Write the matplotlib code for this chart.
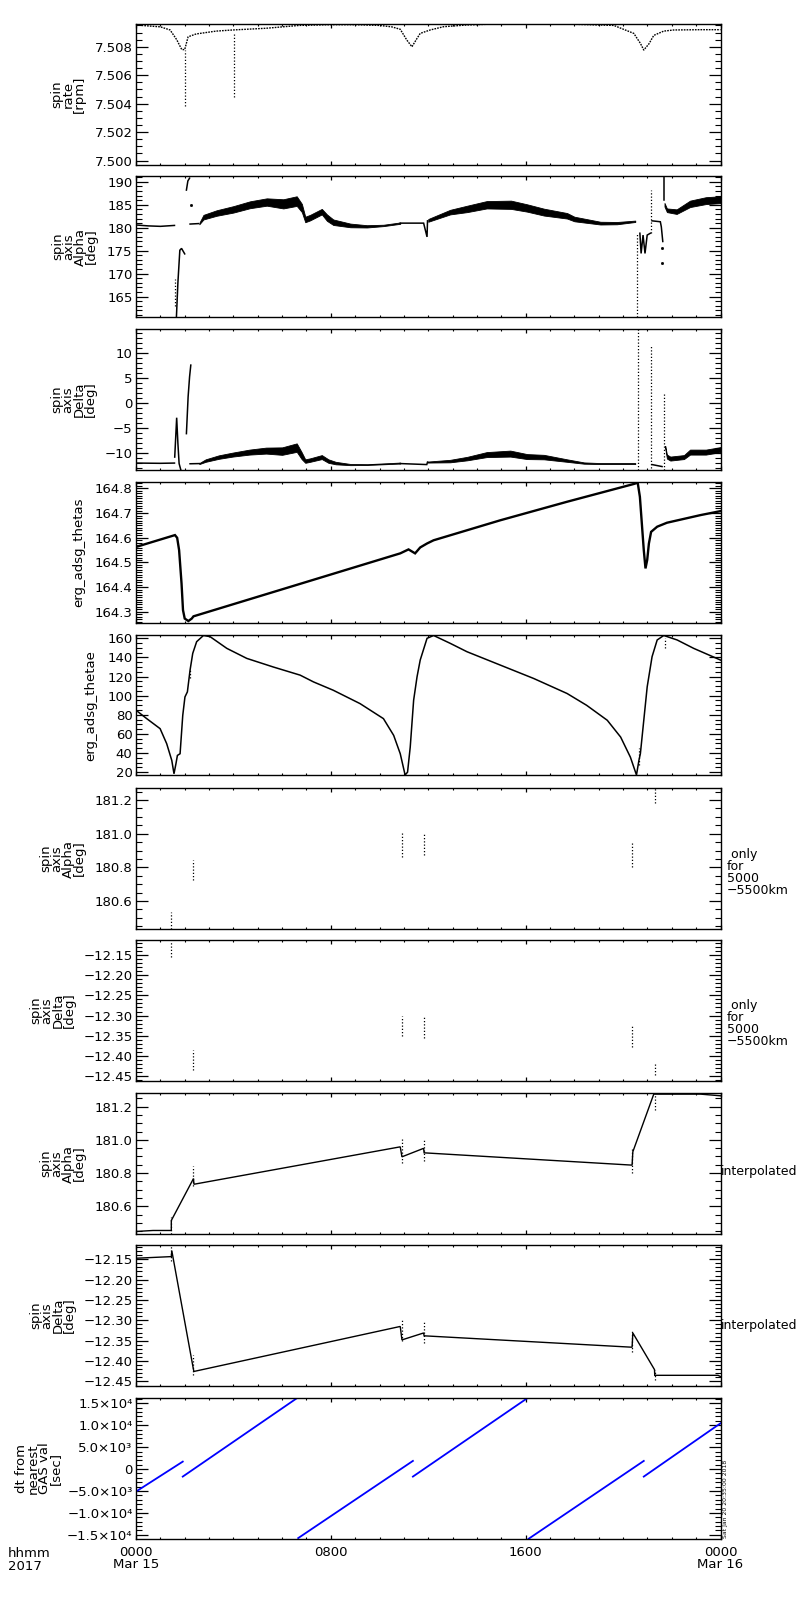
import matplotlib
matplotlib.use("Agg")
import matplotlib.pyplot as plt
from matplotlib.ticker import MultipleLocator, FuncFormatter, FixedLocator, FixedFormatter

plt.rcParams['font.family'] = ['DejaVu Sans']
plt.rcParams['font.size'] = 9.5

# ---------------- data (hours since 2017-03-15 00:00) ----------------
hour_ticks = [0, 8, 16, 24]
hour_labels = ["0000\nMar 15", "0800", "1600", "0000\nMar 16"]

# panel 1: spin rate [rpm]
rate_t = [0.0, 1.0, 1.40, 1.67, 1.88, 2.00, 2.14, 2.47, 3.29, 3.97, 5.34, 6.70, 8.0, 9.0,
          10.0, 10.5, 10.85, 11.12, 11.33, 11.54, 11.67, 12.08, 12.63, 13.59, 14.41, 16.0,
          18.0, 19.62, 20.44, 20.71, 20.85, 21.06, 21.26, 21.67, 22.08, 23.18, 24.0]
rate_v = [7.50953, 7.50940, 7.50918, 7.50850, 7.50780, 7.50780, 7.50870, 7.50890, 7.50910,
          7.50918, 7.50930, 7.50950, 7.50955, 7.50955, 7.50950, 7.50940, 7.50923, 7.50847,
          7.50800, 7.50859, 7.50894, 7.50918, 7.50941, 7.50953, 7.50958, 7.50958, 7.50958,
          7.50950, 7.50894, 7.50824, 7.50777, 7.50820, 7.50880, 7.50910, 7.50918, 7.50920,
          7.50920]
rate_out_t = [2.00, 4.03]
rate_out_lo = [7.5038, 7.5045]
rate_out_hi = [7.5078, 7.5090]

# panel 2: spin axis Alpha [deg]
alpha_a_t = [0.0, 0.5, 1.0, 1.58]
alpha_a_v = [180.6, 180.4, 180.3, 180.5]
alpha_b_t = [1.66, 1.72, 1.80, 1.87, 2.00]
alpha_b_v = [160.6, 168.0, 175.1, 175.5, 174.3]
alpha_c_t = [2.07, 2.13, 2.20]
alpha_c_v = [188.2, 190.2, 190.8]
alpha_d_t = [2.22, 2.56]
alpha_d_v = [180.8, 180.9]
alpha_e_t = [10.85, 11.81, 11.95, 11.97]
alpha_e_v = [181.0, 181.0, 178.0, 181.5]
alpha_f_t = [20.69, 20.74, 20.82, 20.90, 20.99, 21.12]
alpha_f_v = [178.8, 174.4, 178.4, 174.4, 178.4, 178.8]
alpha_g_t = [21.19, 21.53, 21.57, 21.63]
alpha_g_v = [181.5, 181.3, 180.2, 177.0]
alpha_h_t = [21.67, 21.67]
alpha_h_v = [191.2, 186.0]
alpha_band1_t = [2.6, 2.77, 3.31, 4.0, 4.68, 5.37, 6.05, 6.6, 6.81, 6.95, 7.15, 7.63, 7.84,
                 8.1, 8.8, 9.48, 10.16, 10.85]
alpha_band1_lo = [180.75, 181.8, 182.6, 183.3, 184.25, 184.8, 184.2, 184.75, 183.4, 181.2,
                  181.6, 182.9, 181.5, 180.6, 180.1, 180.05, 180.35, 180.85]
alpha_band1_hi = [181.05, 182.8, 183.8, 184.7, 185.75, 186.4, 186.2, 186.85, 185.2, 182.4,
                  182.8, 184.1, 182.9, 181.8, 180.9, 180.55, 180.65, 181.15]
alpha_band2_t = [12.0, 12.9, 13.6, 14.4, 15.4, 16.06, 16.75, 17.7, 18.0, 19.07, 19.75, 20.5]
alpha_band2_lo = [181.3, 182.9, 183.4, 184.2, 184.1, 183.5, 182.65, 182.0, 181.4, 180.7,
                  180.75, 181.25]
alpha_band2_hi = [181.9, 183.9, 184.8, 185.8, 185.9, 185.1, 184.15, 183.2, 182.4, 181.3,
                  181.25, 181.55]
alpha_band3_t = [21.7, 21.8, 22.2, 22.75, 23.4, 24.0]
alpha_band3_lo = [184.6, 183.4, 183.0, 184.5, 185.15, 185.35]
alpha_band3_hi = [185.4, 184.2, 184.0, 185.9, 186.65, 186.85]
alpha_dots_t = [1.59, 20.57, 21.15]
alpha_dots_lo = [163.0, 160.6, 178.8]
alpha_dots_hi = [168.8, 178.8, 188.2]
alpha_pt_t = [2.26, 21.60, 21.60]
alpha_pt_v = [185.0, 175.6, 172.4]

# panel 3: spin axis Delta [deg]
delta_a_t = [0.0, 1.0, 1.58]
delta_a_v = [-12.0, -12.05, -12.0]
delta_b_t = [1.59, 1.67, 1.72, 1.77, 1.84]
delta_b_v = [-10.8, -2.9, -8.0, -12.1, -13.35]
delta_c_t = [2.07, 2.14, 2.20, 2.25]
delta_c_v = [-6.1, 1.3, 5.3, 7.65]
delta_d_t = [2.22, 2.60]
delta_d_v = [-12.14, -12.1]
delta_e_t = [10.85, 11.94, 11.97]
delta_e_v = [-12.1, -12.3, -11.8]
delta_f_t = [21.19, 21.60]
delta_f_v = [-12.3, -12.7]
delta_band1_t = [2.60, 2.86, 3.40, 3.97, 4.66, 5.34, 6.00, 6.60, 6.80, 6.95, 7.15, 7.63, 7.90,
                 8.20, 8.80, 9.50, 10.85]
delta_band1_lo = [-12.2, -11.75, -11.15, -10.7, -10.3, -10.1, -10.35, -9.75, -11.2, -11.95,
                  -11.75, -11.2, -11.95, -12.25, -12.42, -12.38, -12.1]
delta_band1_hi = [-12.0, -11.25, -10.45, -9.9, -9.3, -8.9, -8.85, -8.05, -9.8, -11.25,
                  -11.05, -10.4, -11.25, -11.75, -12.18, -12.22, -11.9]
delta_band2_t = [11.97, 12.9, 13.6, 14.4, 15.37, 16.06, 16.75, 17.7, 18.4, 19.07, 20.5]
delta_band2_lo = [-11.9, -11.85, -11.45, -10.8, -10.7, -11.2, -11.25, -11.75, -12.13, -12.2,
                  -12.2]
delta_band2_hi = [-11.7, -11.35, -10.75, -9.8, -9.5, -10.2, -10.35, -11.25, -11.87, -12.0,
                  -12.0]
delta_band3_t = [21.73, 21.8, 21.94, 22.5, 22.75, 23.4, 24.0]
delta_band3_lo = [-9.05, -11.1, -11.5, -11.2, -10.3, -10.3, -9.8]
delta_band3_hi = [-8.55, -10.3, -10.7, -10.4, -9.3, -9.3, -8.8]
delta_dots_t = [20.60, 21.15, 21.67]
delta_dots_lo = [-13.35, -13.0, -13.35]
delta_dots_hi = [14.8, 11.7, 2.3]

# panel 4: erg_adsg_thetas
thetas_t = [0.0, 1.60, 1.69, 1.77, 1.87, 1.93, 2.00, 2.15, 2.29, 2.36, 10.85, 11.19, 11.46,
            11.67, 11.95, 12.22, 14.96, 17.70, 20.44, 20.60, 20.69, 20.79, 20.85, 20.92, 20.99,
            21.06, 21.15, 21.40, 21.80, 23.18, 24.0]
thetas_v = [164.563, 164.611, 164.600, 164.550, 164.415, 164.307, 164.273, 164.263, 164.273,
            164.282, 164.537, 164.553, 164.537, 164.561, 164.577, 164.590, 164.671, 164.746,
            164.818, 164.823, 164.766, 164.631, 164.550, 164.476, 164.510, 164.577, 164.624,
            164.645, 164.661, 164.692, 164.708]

# panel 5: erg_adsg_thetae
thetae_t = [0.0, 0.44, 0.99, 1.26, 1.47, 1.56, 1.64, 1.70, 1.81, 1.92, 2.01, 2.11, 2.22, 2.33,
            2.49, 2.77, 3.04, 3.73, 4.55, 5.64, 6.74, 7.29, 8.10, 9.20, 10.16, 10.58, 10.85,
            11.05, 11.15, 11.26, 11.40, 11.54, 11.67, 11.95, 12.22, 12.90, 13.59, 14.96, 16.33,
            17.70, 18.50, 19.35, 19.90, 20.30, 20.55, 20.65, 20.71, 20.99, 21.19, 21.40, 21.67,
            22.22, 22.90, 24.0]
thetae_v = [84.8, 76.0, 65.5, 49.8, 32.2, 18.3, 28.8, 37.5, 39.3, 79.5, 98.7, 104.0, 126.8,
            144.3, 156.5, 163.0, 161.8, 149.5, 139.0, 130.0, 121.5, 114.4, 105.7, 91.7, 76.0,
            58.5, 39.3, 17.0, 20.0, 46.2, 95.3, 119.8, 137.3, 160.0, 163.0, 154.8, 146.0,
            132.0, 118.0, 102.3, 90.0, 74.3, 56.7, 35.7, 17.0, 32.3, 39.3, 109.3, 140.8, 158.3,
            163.0, 158.3, 149.5, 137.3]
thetae_dots_t = [2.22, 20.65, 21.72]
thetae_dots_lo = [118.0, 28.0, 150.0]
thetae_dots_hi = [128.0, 45.0, 160.0]

# GAS data points (panels 6-9)
gas_t = [1.45, 2.36, 10.92, 11.81, 20.37, 21.29]
gas_alpha_lo = [180.435, 180.723, 180.862, 180.872, 180.803, 181.180]
gas_alpha_hi = [180.534, 180.842, 181.011, 181.005, 180.946, 181.270]
gas_delta_lo = [-12.154, -12.434, -12.351, -12.355, -12.378, -12.446]
gas_delta_hi = [-12.117, -12.384, -12.300, -12.304, -12.323, -12.421]

# panel 8: interpolated Alpha
ialpha_t = [0.0, 0.7, 1.45, 1.45, 2.36, 2.38, 10.85, 10.92, 11.81, 11.83, 20.37, 20.40, 21.26,
            23.18, 24.0]
ialpha_v = [180.449, 180.455, 180.455, 180.515, 180.767, 180.733, 180.958, 180.898, 180.949,
            180.922, 180.848, 180.928, 181.275, 181.275, 181.265]

# panel 9: interpolated Delta
idelta_t = [0.0, 1.45, 1.47, 2.36, 2.38, 10.85, 10.92, 11.81, 11.83, 20.37, 20.40, 21.29,
            21.30, 23.9, 24.0]
idelta_v = [-12.1475, -12.1435, -12.129, -12.421, -12.4255, -12.315, -12.348, -12.331,
            -12.338, -12.366, -12.331, -12.421, -12.435, -12.435, -12.438]

# panel 10: dt from nearest GAS value [sec]
dt_start_t = [0.0, 1.92, 6.66, 11.37, 16.12, 20.85]
dt_start_v = [-5134, -1717, -15750, -1717, -15911, -1717]
dt_end_t = [1.92, 6.60, 11.37, 16.06, 20.85, 24.0]
dt_end_v = [1700, 16146, 1860, 16146, 1860, 10443]
dt_ticks = [-15000, -10000, -5000, 0, 5000, 10000, 15000]
dt_tick_labels = ["\u22121.5\u00d710\u2074", "\u22121.0\u00d710\u2074", "\u22125.0\u00d710\u00b3",
                  "0", "5.0\u00d710\u00b3", "1.0\u00d710\u2074", "1.5\u00d710\u2074"]

# ---------------- layout ----------------
W, H = 800, 1600
fig = plt.figure(figsize=(W / 100, H / 100), dpi=100)
left_px, right_px = 136, 720.5
tops = [24, 176.3, 329.3, 482, 635, 788.3, 940, 1093.3, 1245, 1398.3]
ph = 140.5
axes = []
for tp in tops:
    ax = fig.add_axes([left_px / W, 1 - (tp + ph) / H, (right_px - left_px) / W, ph / H])
    axes.append(ax)

K = 'black'


def minus(fmt):
    return FuncFormatter(lambda v, p: (fmt % v).replace('-', '\u2212'))


def style(ax, ylim, major, minor, fmt, label, label_px, bottom=False):
    ax.set_xlim(0, 24)
    ax.set_ylim(*ylim)
    for s in ax.spines.values():
        s.set_linewidth(1.0)
    ax.xaxis.set_major_locator(FixedLocator(hour_ticks))
    ax.xaxis.set_minor_locator(MultipleLocator(1))
    ax.yaxis.set_major_locator(MultipleLocator(major))
    ax.yaxis.set_minor_locator(MultipleLocator(minor))
    if fmt is not None:
        ax.yaxis.set_major_formatter(minus(fmt))
    ax.tick_params(axis='y', which='major', direction='in', length=8.5, width=0.9,
                   left=True, right=True, pad=2.5, labelsize=9.5)
    ax.tick_params(axis='y', which='minor', direction='in', length=4.3, width=0.8,
                   left=True, right=True)
    ax.tick_params(axis='x', which='major', direction='in', length=3.0, width=0.9,
                   top=True, bottom=True, pad=5, labelsize=9.5)
    ax.tick_params(axis='x', which='minor', direction='in', length=1.6, width=0.8,
                   top=True, bottom=True)
    if bottom:
        ax.set_xticklabels(hour_labels)
        for lb in ax.get_xticklabels():
            lb.set_linespacing(0.95)
    else:
        ax.set_xticklabels([])
    ax.set_ylabel(label, fontsize=9.5, linespacing=0.82)
    ax.yaxis.set_label_coords((label_px - left_px) / (right_px - left_px), 0.5)


def line(ax, t, v, lw=0.9, **kw):
    ax.plot(t, v, color=K, lw=lw, solid_joinstyle='miter', **kw)


def band(ax, t, lo, hi):
    ax.fill_between(t, lo, hi, color=K, lw=0.6)


def dots(ax, t, lo, hi):
    ax.vlines(t, lo, hi, colors=K, linestyles=(0, (1.0, 1.6)), lw=0.9)


# panel 1
ax = axes[0]
style(ax, (7.49972, 7.5096), 0.002, 0.0005, '%.3f', "spin\nrate\n[rpm]", 86)
line(ax, rate_t, rate_v, lw=1.0, ls=(0, (1.2, 0.8)))
dots(ax, rate_out_t, rate_out_lo, rate_out_hi)

# panel 2
ax = axes[1]
style(ax, (160.6, 191.2), 5, 1, '%d', "spin\naxis\nAlpha\n[deg]", 98)
for t, v in [(alpha_a_t, alpha_a_v), (alpha_b_t, alpha_b_v), (alpha_c_t, alpha_c_v),
             (alpha_d_t, alpha_d_v), (alpha_e_t, alpha_e_v), (alpha_f_t, alpha_f_v),
             (alpha_g_t, alpha_g_v), (alpha_h_t, alpha_h_v)]:
    line(ax, t, v, lw=1.1)
band(ax, alpha_band1_t, alpha_band1_lo, alpha_band1_hi)
band(ax, alpha_band2_t, alpha_band2_lo, alpha_band2_hi)
band(ax, alpha_band3_t, alpha_band3_lo, alpha_band3_hi)
dots(ax, alpha_dots_t, alpha_dots_lo, alpha_dots_hi)
ax.plot(alpha_pt_t, alpha_pt_v, 's', color=K, ms=1.0)

# panel 3
ax = axes[2]
style(ax, (-13.35, 14.83), 5, 1, '%d', "spin\naxis\nDelta\n[deg]", 97)
for t, v in [(delta_a_t, delta_a_v), (delta_b_t, delta_b_v), (delta_c_t, delta_c_v),
             (delta_d_t, delta_d_v), (delta_e_t, delta_e_v), (delta_f_t, delta_f_v)]:
    line(ax, t, v, lw=1.1)
band(ax, delta_band1_t, delta_band1_lo, delta_band1_hi)
band(ax, delta_band2_t, delta_band2_lo, delta_band2_hi)
band(ax, delta_band3_t, delta_band3_lo, delta_band3_hi)
dots(ax, delta_dots_t, delta_dots_lo, delta_dots_hi)

# panel 4
ax = axes[3]
style(ax, (164.257, 164.826), 0.1, 0.01, '%.1f', "erg_adsg_thetas", 85)
line(ax, thetas_t, thetas_v, lw=1.7)

# panel 5
ax = axes[4]
style(ax, (16.5, 163.5), 20, 5, '%d', "erg_adsg_thetae", 97)
line(ax, thetae_t, thetae_v, lw=1.1)
dots(ax, thetae_dots_t, thetae_dots_lo, thetae_dots_hi)

# panel 6
ax = axes[5]
style(ax, (180.435, 181.27), 0.2, 0.05, '%.1f', "spin\naxis\nAlpha\n[deg]", 86)
dots(ax, gas_t, gas_alpha_lo, gas_alpha_hi)
ax.text(1.011, 0.40, " only\nfor\n5000\n\u22125500km", transform=ax.transAxes,
        ha='left', va='center', fontsize=9, linespacing=0.9)

# panel 7
ax = axes[6]
style(ax, (-12.4607, -12.113), 0.05, 0.01, '%.2f', "spin\naxis\nDelta\n[deg]", 76)
dots(ax, gas_t, gas_delta_lo, gas_delta_hi)
ax.text(1.011, 0.405, " only\nfor\n5000\n\u22125500km", transform=ax.transAxes,
        ha='left', va='center', fontsize=9, linespacing=0.9)

# panel 8
ax = axes[7]
style(ax, (180.435, 181.28), 0.2, 0.05, '%.1f', "spin\naxis\nAlpha\n[deg]", 86)
line(ax, ialpha_t, ialpha_v, lw=1.0)
dots(ax, gas_t, gas_alpha_lo, gas_alpha_hi)
ax.text(1.0, 0.44, "interpolated", transform=ax.transAxes,
        ha='left', va='center', fontsize=9)

# panel 9
ax = axes[8]
style(ax, (-12.46, -12.115), 0.05, 0.01, '%.2f', "spin\naxis\nDelta\n[deg]", 76)
line(ax, idelta_t, idelta_v, lw=1.0)
dots(ax, gas_t, gas_delta_lo, gas_delta_hi)
ax.text(1.0, 0.43, "interpolated", transform=ax.transAxes,
        ha='left', va='center', fontsize=9)

# panel 10
ax = axes[9]
style(ax, (-15911, 16146), 5000, 1000, None, "dt from\nnearest\nGAS val\n[sec]", 62,
      bottom=True)
ax.yaxis.set_major_locator(FixedLocator(dt_ticks))
ax.yaxis.set_major_formatter(FixedFormatter(dt_tick_labels))
for t0, v0, t1, v1 in zip(dt_start_t, dt_start_v, dt_end_t, dt_end_v):
    ax.plot([t0, t1], [v0, v1], color='#0000ff', lw=1.3)

fig.text(8 / W, 1 - 1547 / H, "hhmm\n2017", ha='left', va='top', fontsize=9.5,
         linespacing=0.95)
fig.text(723 / W, 1 - 1538 / H, "Sat Jan 20 20:35:00 2018", rotation=90, fontsize=4.4,
         ha='left', va='bottom')

fig.savefig("out.png", dpi=100)
